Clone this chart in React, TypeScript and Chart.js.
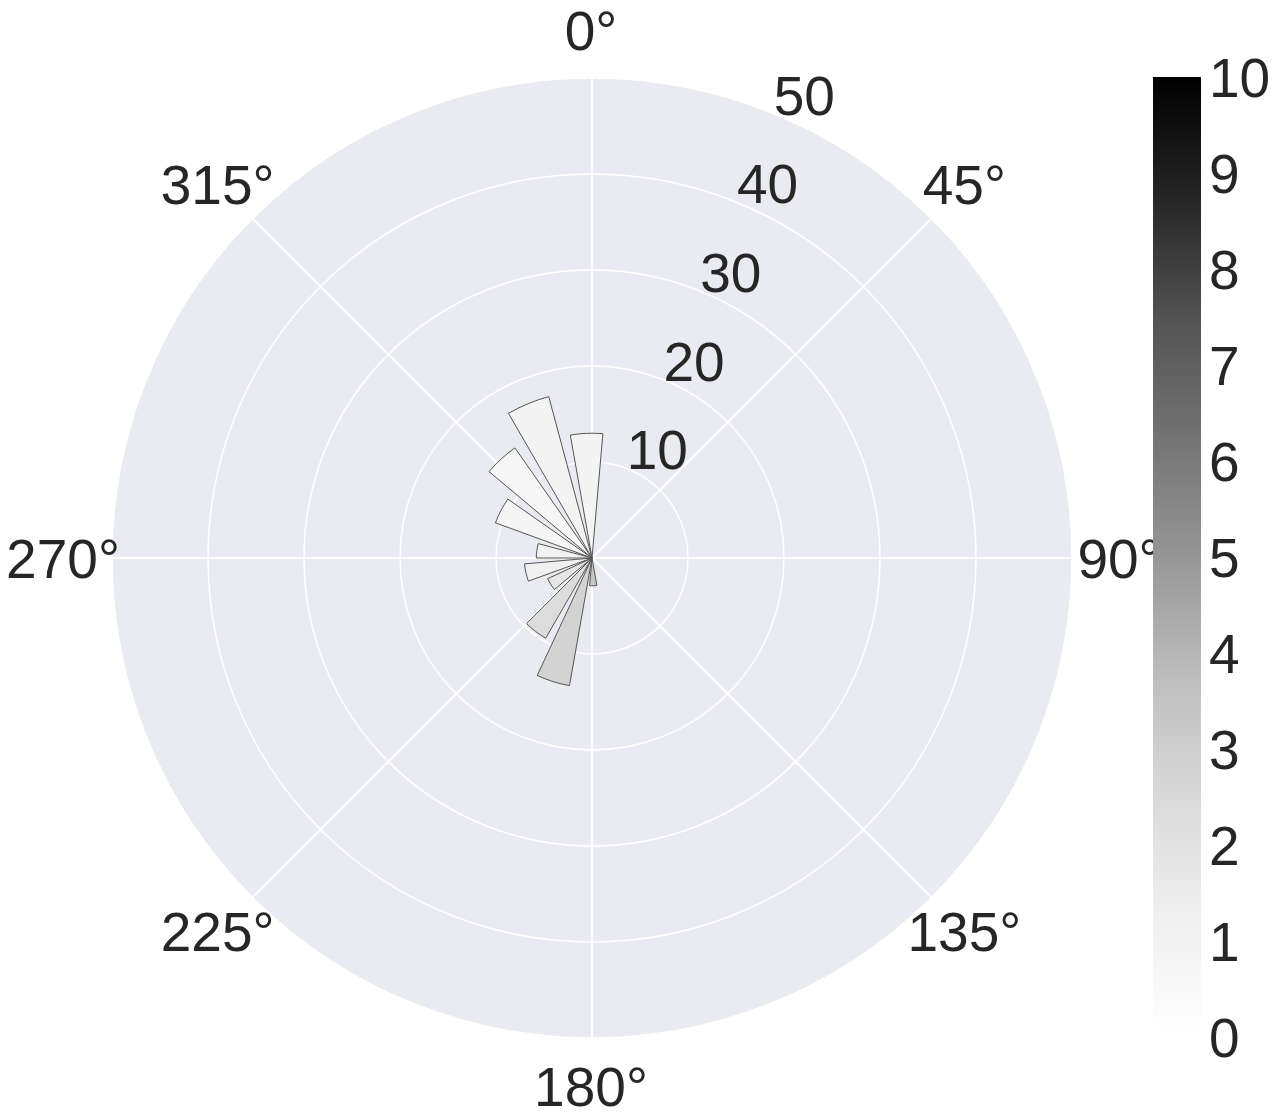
import React, { useEffect, useRef } from "react";
import { Chart, registerables } from "chart.js";

Chart.register(...registerables);

// Direction bins (start angle in degrees, clockwise from north)
const binStarts = [-10, 10, 30, 50, 70, 90, 110, 130, 150, 170, 190, 210, 230, 250, 270, 290, 310, 330];
const binWidth = 15;
// Bar lengths (radial values)
const radii = [13.0, 0, 0, 0, 0, 0, 0, 0, 0, 2.9, 13.5, 9.65, 5.1, 7.05, 5.8, 10.7, 14.0, 17.4];
// Colour values on the 0-10 colour bar
const colorValues = [0.92, 0, 0, 0, 0, 0, 0, 0, 0, 3.35, 2.77, 2.34, 1.79, 1.25, 1.08, 0.83, 0.75, 1.0];

const radialTicks = [10, 20, 30, 40, 50];
const angleTicks = [0, 45, 90, 135, 180, 225, 270, 315];
const colorbarTicks = [0, 1, 2, 3, 4, 5, 6, 7, 8, 9, 10];
const colorbarMin = 0;
const colorbarMax = 10;

const greysStops: [number, number][] = [
  [0.0, 255],
  [0.125, 240],
  [0.25, 217],
  [0.375, 189],
  [0.5, 150],
  [0.625, 115],
  [0.75, 82],
  [0.875, 37],
  [1.0, 0],
];

function greys(t: number): string {
  const c = Math.max(0, Math.min(1, t));
  for (let i = 1; i < greysStops.length; i++) {
    const [t0, v0] = greysStops[i - 1];
    const [t1, v1] = greysStops[i];
    if (c <= t1) {
      const v = Math.round(v0 + ((c - t0) / (t1 - t0)) * (v1 - v0));
      return `rgb(${v},${v},${v})`;
    }
  }
  return "rgb(0,0,0)";
}

const FS = 55;
const FONT = `${FS}px "Liberation Sans", Arial, Helvetica, sans-serif`;
const TEXT = "#262626";

const polarDecor = {
  id: "polarDecor",
  beforeDatasetsDraw(chart: any) {
    const s = chart.scales.r;
    const ctx = chart.ctx;
    const R = s.getDistanceFromCenterForValue(s.max);
    ctx.save();
    ctx.strokeStyle = "#ffffff";
    ctx.lineWidth = 2;
    for (const a of angleTicks) {
      const rad = (a * Math.PI) / 180;
      ctx.beginPath();
      ctx.moveTo(s.xCenter, s.yCenter);
      ctx.lineTo(s.xCenter + R * Math.sin(rad), s.yCenter - R * Math.cos(rad));
      ctx.stroke();
    }
    ctx.restore();
  },
  afterDatasetsDraw(chart: any) {
    const s = chart.scales.r;
    const ctx = chart.ctx;
    ctx.save();
    ctx.font = FONT;
    ctx.fillStyle = TEXT;
    // radial tick labels at 22.5 deg
    const lab = (22.5 * Math.PI) / 180;
    ctx.textAlign = "left";
    ctx.textBaseline = "alphabetic";
    for (const v of radialTicks) {
      const d = s.getDistanceFromCenterForValue(v);
      ctx.fillText(String(v), s.xCenter + d * Math.sin(lab) - 2, s.yCenter - d * Math.cos(lab));
    }
    // angular labels
    ctx.textAlign = "center";
    const RL = s.drawingArea * 1.1;
    for (const a of angleTicks) {
      const rad = (a * Math.PI) / 180;
      const x = s.xCenter + RL * Math.sin(rad);
      const y = s.yCenter - RL * Math.cos(rad);
      ctx.fillText(`${a}°`, x - 1, y + 0.358 * FS);
    }
    ctx.restore();
  },
  afterDraw(chart: any) {
    const ctx = chart.ctx;
    const area = chart.chartArea;
    const top = area.top - 1;
    const bottom = area.bottom - 1;
    const left = area.right + 81;
    const width = 48;
    ctx.save();
    const g = ctx.createLinearGradient(0, bottom, 0, top);
    for (const [t, v] of greysStops) g.addColorStop(t, `rgb(${v},${v},${v})`);
    ctx.fillStyle = g;
    ctx.fillRect(left, top, width, bottom - top);
    ctx.font = FONT;
    ctx.fillStyle = TEXT;
    ctx.textAlign = "left";
    ctx.textBaseline = "alphabetic";
    for (const v of colorbarTicks) {
      const y = bottom - ((v - colorbarMin) / (colorbarMax - colorbarMin)) * (bottom - top);
      ctx.fillText(String(v), left + width + 8, y + 0.358 * FS);
    }
    ctx.restore();
  },
};

export default function App() {
  const ref = useRef<HTMLCanvasElement | null>(null);

  useEffect(() => {
    if (!ref.current) return;
    const segValues: number[] = [];
    const segAngles: number[] = [];
    const segColors: string[] = [];
    const segBorders: number[] = [];
    binStarts.forEach((start, i) => {
      const next = i + 1 < binStarts.length ? binStarts[i + 1] : binStarts[0] + 360;
      segValues.push(radii[i]);
      segAngles.push(binWidth);
      segColors.push(greys((colorValues[i] - colorbarMin) / (colorbarMax - colorbarMin)));
      segBorders.push(radii[i] > 0 ? 1 : 0);
      segValues.push(0);
      segAngles.push(next - start - binWidth);
      segColors.push("rgba(0,0,0,0)");
      segBorders.push(0);
    });

    const chart = new Chart(ref.current, {
      type: "polarArea",
      data: {
        labels: segValues.map((_, i) => String(i)),
        datasets: [
          {
            data: segValues,
            backgroundColor: segColors,
            borderColor: "#555555",
            borderWidth: segBorders,
            angle: segAngles,
          } as any,
        ],
      },
      options: {
        responsive: false,
        animation: false,
        events: [],
        layout: { padding: { left: 112, right: 204, top: 78, bottom: 77 } },
        plugins: { legend: { display: false }, tooltip: { enabled: false } },
        scales: {
          r: {
            type: "radialLinear",
            min: 0,
            max: 50,
            beginAtZero: true,
            startAngle: binStarts[0],
            backgroundColor: "#EAEAF2",
            grid: { circular: true, color: "#ffffff", lineWidth: 1.5 },
            angleLines: { display: false },
            pointLabels: { display: false },
            ticks: { display: false, stepSize: 10 },
          } as any,
        },
      },
      plugins: [polarDecor],
    });
    return () => chart.destroy();
  }, []);

  return (
    <div style={{ position: "absolute", left: 0, top: 0, width: 1276, height: 1115, background: "#ffffff" }}>
      <canvas ref={ref} width={1276} height={1115} style={{ width: 1276, height: 1115, display: "block" }} />
    </div>
  );
}
